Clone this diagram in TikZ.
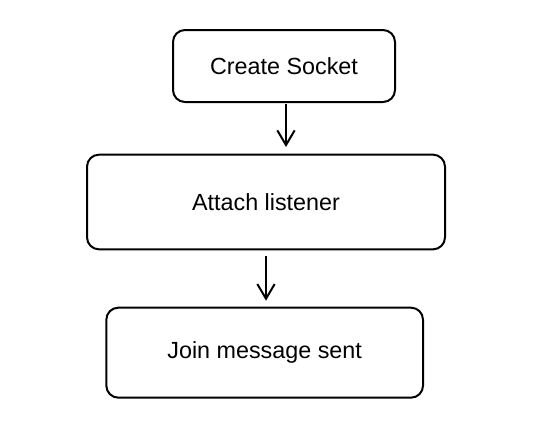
\documentclass[tikz,border=0pt]{standalone}
\usepackage{fontspec}
\setmainfont{Liberation Sans}
\usetikzlibrary{positioning,arrows.meta}

\begin{document}
\begin{tikzpicture}[x=0.75pt, y=-0.75pt, node distance=102pt]
	\tikzstyle{block} = [rectangle, draw, line width=1.5pt, rounded corners=9pt,
	font=\fontsize{17.5}{20}\selectfont, inner sep=0pt]
	\tikzstyle{line} = [draw, -{Straight Barb[length=11pt,width=13pt]}, line width=1.5pt]
	\fill [white] (0,0) rectangle (556,439);
	\useasboundingbox (0,0) rectangle (556,439);
	% Place nodes
	\node [block, minimum width=166.5pt, minimum height=54pt] (socket) at (284,66) {Create Socket};
	\node [block, below of=socket, xshift=-13.5pt, minimum width=268.5pt, minimum height=71pt] (listener) {Attach listener};
	\node [block, below of=listener, node distance=113pt, xshift=-1pt, minimum width=237.5pt, minimum height=67.5pt] (join) {Join message sent};
	% Draw edges
	\path [line, shorten <=1pt, shorten >=5pt] ([xshift=1.5pt]socket.south) -- ([xshift=1.5pt]socket.south |- listener.north);
	\path [line, shorten <=4pt, shorten >=4.5pt] (listener.south) -- (listener.south |- join.north);
\end{tikzpicture}
\end{document}
